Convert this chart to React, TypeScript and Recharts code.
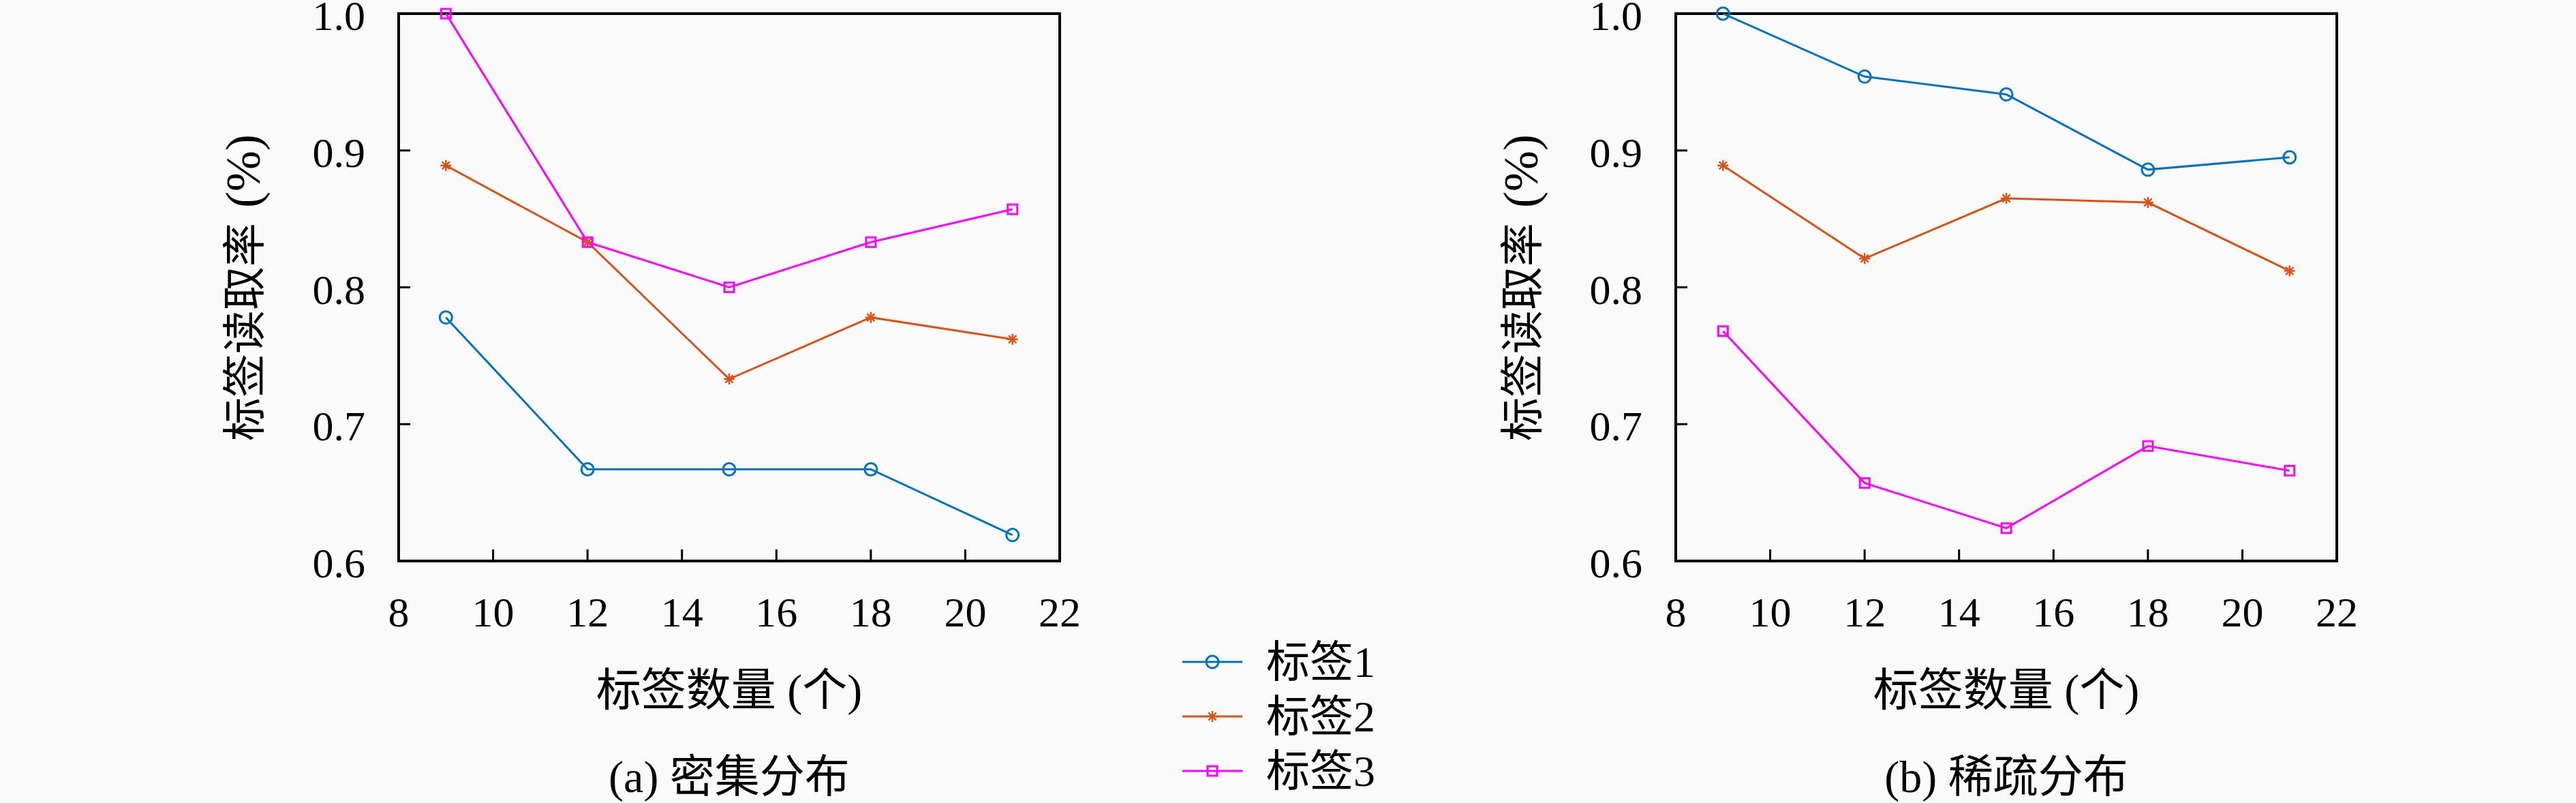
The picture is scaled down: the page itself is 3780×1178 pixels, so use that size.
import React from 'react'
import { LineChart, Line, XAxis, YAxis, ReferenceArea } from 'recharts'

// tag counts on the x axis
const tagCounts = [9, 12, 15, 18, 21]

// (a) dense distribution
const dense1 = [0.778, 0.667, 0.667, 0.667, 0.619]
const dense2 = [0.889, 0.833, 0.733, 0.778, 0.762]
const dense3 = [1.0, 0.833, 0.8, 0.833, 0.857]

// (b) sparse distribution
const sparse1 = [1.0, 0.954, 0.941, 0.886, 0.895]
const sparse2 = [0.889, 0.821, 0.865, 0.862, 0.812]
const sparse3 = [0.768, 0.657, 0.624, 0.684, 0.666]

const xTicks = [8, 10, 12, 14, 16, 18, 20, 22]
const yTicks = [0.6, 0.7, 0.8, 0.9, 1.0]

const seriesNames = ['标签1', '标签2', '标签3']
const seriesColors = ['#0072BD', '#D95319', '#FF00FF']
const seriesMarkers = ['circle', 'star', 'square']

const LATIN = "'Liberation Serif', 'DejaVu Serif', serif"
const MIXED = "'Liberation Serif', 'Noto Sans CJK SC', serif"

const W = 3780
const H = 1178
const PLOT_TOP = 20
const PLOT_BOTTOM = 823
const PLOT_W = 970
const Y_AXIS_W = 100
const X_AXIS_H = 100

function Marker({ kind, cx, cy, color }: { kind: string; cx: number; cy: number; color: string }) {
  if (cx == null || cy == null) return null
  if (kind === 'circle') {
    return <circle cx={cx} cy={cy} r={9} fill="none" stroke={color} strokeWidth={3} />
  }
  if (kind === 'square') {
    return <rect x={cx - 7} y={cy - 7} width={14} height={14} fill="none" stroke={color} strokeWidth={3} />
  }
  const r = 8
  const d = r * 0.7
  return (
    <g stroke={color} strokeWidth={2.5}>
      <line x1={cx - r} y1={cy} x2={cx + r} y2={cy} />
      <line x1={cx} y1={cy - r} x2={cx} y2={cy + r} />
      <line x1={cx - d} y1={cy - d} x2={cx + d} y2={cy + d} />
      <line x1={cx - d} y1={cy + d} x2={cx + d} y2={cy - d} />
    </g>
  )
}

function XTick(props: any) {
  const { x, y, payload } = props
  return (
    <g>
      {payload.value > 8 && payload.value < 22 && (
        <line x1={x} y1={y} x2={x} y2={y - 17} stroke="#000" strokeWidth={3} />
      )}
      <text x={x} y={y + 96} textAnchor="middle" fontFamily={LATIN} fontSize={62} fill="#000">
        {payload.value}
      </text>
    </g>
  )
}

function YTick(props: any) {
  const { x, y, payload } = props
  return (
    <g>
      {payload.value > 0.6 && payload.value < 1.0 && (
        <line x1={x} y1={y} x2={x + 17} y2={y} stroke="#000" strokeWidth={3} />
      )}
      <text x={x - 49} y={y + 24} textAnchor="end" fontFamily={LATIN} fontSize={62} fill="#000">
        {Number(payload.value).toFixed(1)}
      </text>
    </g>
  )
}

function Panel({ left, width, plotLeft, values, xTitle, caption, yTitleX }: {
  left: number; width: number; plotLeft: number; values: number[][]; xTitle: string; caption: string; yTitleX: number
}) {
  const rows = tagCounts.map((x, i) => ({ x, s0: values[0][i], s1: values[1][i], s2: values[2][i] }))
  const margin = {
    top: PLOT_TOP,
    bottom: H - PLOT_BOTTOM - X_AXIS_H,
    left: plotLeft - left - Y_AXIS_W,
    right: left + width - plotLeft - PLOT_W,
  }
  const centerX = plotLeft + PLOT_W / 2 - left
  return (
    <div style={{ position: 'absolute', left, top: 0, width, height: H }}>
      <LineChart width={width} height={H} data={rows} margin={margin}>
        <XAxis
          dataKey="x"
          type="number"
          domain={[8, 22]}
          ticks={xTicks}
          interval={0}
          height={X_AXIS_H}
          tickSize={0}
          tickMargin={0}
          tickLine={false}
          axisLine={false}
          tick={<XTick />}
        />
        <YAxis
          type="number"
          domain={[0.6, 1.0]}
          ticks={yTicks}
          interval={0}
          width={Y_AXIS_W}
          tickSize={0}
          tickMargin={0}
          tickLine={false}
          axisLine={false}
          tick={<YTick />}
        />
        <ReferenceArea x1={8} x2={22} y1={0.6} y2={1.0} fill="none" stroke="#000" strokeWidth={4} fillOpacity={0} strokeOpacity={1} />
        {seriesNames.map((name, s) => (
          <Line
            key={name}
            dataKey={`s${s}`}
            name={name}
            stroke={seriesColors[s]}
            strokeWidth={3}
            isAnimationActive={false}
            dot={(p: any) => (
              <Marker key={`${name}-${p.index}`} kind={seriesMarkers[s]} cx={p.cx} cy={p.cy} color={seriesColors[s]} />
            )}
            activeDot={false}
          />
        ))}
      </LineChart>
      <div style={{
        position: 'absolute', left: yTitleX - left, top: (PLOT_TOP + PLOT_BOTTOM) / 2,
        transform: 'translate(-50%, -50%) rotate(-90deg)', fontFamily: MIXED, fontSize: 64,
        lineHeight: 1, whiteSpace: 'nowrap', color: '#000',
      }}>
        标签读取率<span style={{ fontSize: 72, marginLeft: 22 }}>(%)</span>
      </div>
      <div style={{
        position: 'absolute', left: centerX, top: 1013, transform: 'translate(-50%, -50%)',
        fontFamily: MIXED, fontSize: 66, lineHeight: 1, whiteSpace: 'nowrap', color: '#000',
      }}>
        {xTitle}
      </div>
      <div style={{
        position: 'absolute', left: centerX, top: 1140, transform: 'translate(-50%, -50%)',
        fontFamily: MIXED, fontSize: 66, lineHeight: 1, whiteSpace: 'nowrap', color: '#000',
      }}>
        {caption}
      </div>
    </div>
  )
}

function LegendBox() {
  const rowY = [51, 131, 211]
  return (
    <svg style={{ position: 'absolute', left: 1700, top: 920 }} width={420} height={258}>
      {seriesNames.map((name, s) => (
        <g key={name}>
          <line x1={35} y1={rowY[s]} x2={123} y2={rowY[s]} stroke={seriesColors[s]} strokeWidth={3} />
          <Marker kind={seriesMarkers[s]} cx={79} cy={rowY[s]} color={seriesColors[s]} />
          <text x={158} y={rowY[s]} dominantBaseline="central" fontFamily={MIXED} fontSize={64} fill="#000">
            {name}
          </text>
        </g>
      ))}
    </svg>
  )
}

export default function App() {
  return (
    <div style={{ position: 'absolute', left: 0, top: 0, width: W, height: H, background: '#fafafa', overflow: 'hidden' }}>
      <Panel
        left={0}
        width={1800}
        plotLeft={585}
        values={[dense1, dense2, dense3]}
        xTitle="标签数量 (个)"
        caption="(a) 密集分布"
        yTitleX={357}
      />
      <Panel
        left={2000}
        width={1780}
        plotLeft={2459}
        values={[sparse1, sparse2, sparse3]}
        xTitle="标签数量 (个)"
        caption="(b) 稀疏分布"
        yTitleX={2232}
      />
      <LegendBox />
    </div>
  )
}
